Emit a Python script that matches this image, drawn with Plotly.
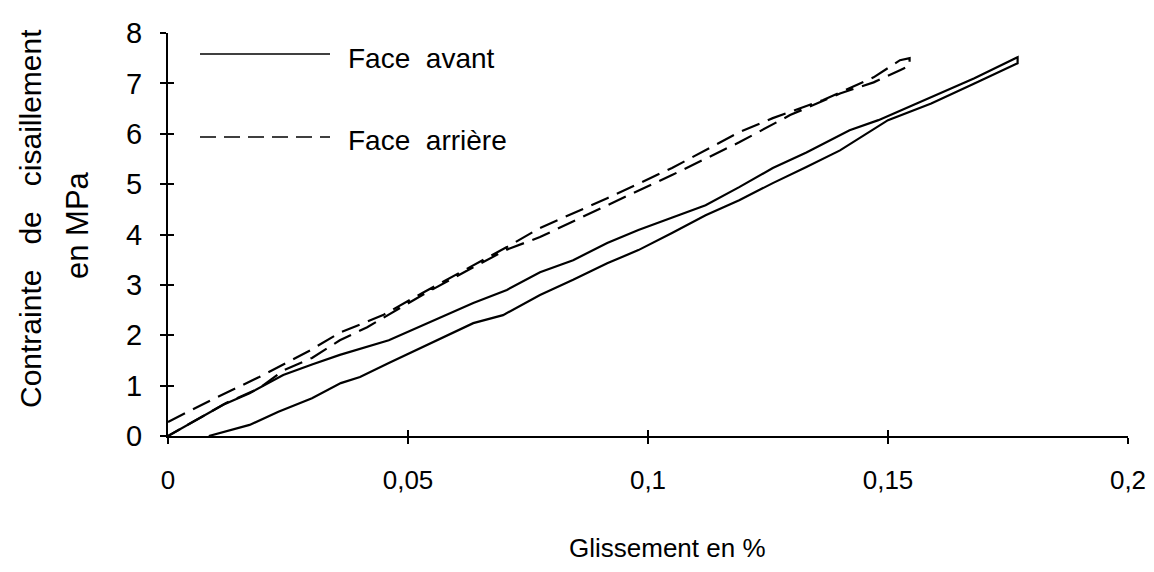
import plotly.graph_objects as go

# Face avant (solid) - loading branch then unloading branch
avant_up_x = [0, 0.0115, 0.017, 0.024, 0.030, 0.0358, 0.046, 0.053, 0.0636, 0.0706, 0.0775,
              0.0844, 0.0915, 0.098, 0.105, 0.112, 0.119, 0.126, 0.133, 0.142, 0.148, 0.159,
              0.168, 0.177]
avant_up_y = [0, 0.62, 0.85, 1.21, 1.42, 1.61, 1.9, 2.2, 2.64, 2.9, 3.25,
              3.49, 3.83, 4.09, 4.33, 4.58, 4.94, 5.32, 5.63, 6.07, 6.27, 6.73,
              7.1, 7.52]
avant_down_x = [0.177, 0.168, 0.159, 0.150, 0.140, 0.133, 0.126, 0.119, 0.112, 0.105, 0.098,
                0.0915, 0.0844, 0.0775, 0.0698, 0.0636, 0.053, 0.046, 0.040, 0.036, 0.030,
                0.023, 0.017, 0.013, 0.0085]
avant_down_y = [7.4, 7.0, 6.6, 6.27, 5.67, 5.34, 5.02, 4.68, 4.38, 4.03, 3.69,
                3.43, 3.1, 2.8, 2.4, 2.24, 1.77, 1.45, 1.17, 1.05, 0.75,
                0.48, 0.22, 0.12, 0]

# Face arrière (dashed)
arriere_up_x = [0, 0.01, 0.019, 0.0296, 0.0358, 0.0448, 0.053, 0.0636, 0.0706, 0.0775,
                0.0915, 0.105, 0.119, 0.126, 0.1365, 0.147, 0.1525, 0.1545]
arriere_up_y = [0.28, 0.76, 1.17, 1.7, 2.05, 2.4, 2.84, 3.39, 3.75, 4.13,
                4.72, 5.32, 6.03, 6.31, 6.67, 7.12, 7.46, 7.5]
arriere_down_x = [0.1545, 0.1525, 0.147, 0.14, 0.1296, 0.119, 0.105, 0.0915, 0.0775, 0.0706,
                  0.0636, 0.053, 0.0415, 0.0358, 0.03, 0.024, 0.019, 0.012, 0]
arriere_down_y = [7.35, 7.26, 7.02, 6.8, 6.37, 5.83, 5.18, 4.58, 3.95, 3.7,
                  3.35, 2.8, 2.16, 1.9, 1.55, 1.3, 0.95, 0.65, 0]

x_tickvals = [0, 0.05, 0.1, 0.15, 0.2]
x_ticktext = ["0", "0,05", "0,1", "0,15", "0,2"]
y_tickvals = [0, 1, 2, 3, 4, 5, 6, 7, 8]

FONT = "Liberation Sans, Arial, sans-serif"
OFF = 8  # page body margin
W, H = 1154 - 2 * OFF, 572 - 2 * OFF
L, T = 168 - OFF, 33 - OFF
PW, PH = 960, 403
R = W - L - PW
B = H - T - PH

def px(xw):
    return (xw - OFF - L) / PW

def py(yw):
    return (T + PH - (yw - OFF)) / PH

fig = go.Figure()
fig.add_trace(go.Scatter(x=avant_up_x + avant_down_x, y=avant_up_y + avant_down_y,
                         mode="lines", line=dict(color="black", width=2.2),
                         name="Face avant", showlegend=False))
fig.add_trace(go.Scatter(x=arriere_up_x + arriere_down_x, y=arriere_up_y + arriere_down_y,
                         mode="lines", line=dict(color="black", width=2.2, dash="19px,9px"),
                         name="Face arrière", showlegend=False))

# legend drawn manually
fig.add_shape(type="line", xref="paper", yref="paper", x0=px(200), x1=px(330), y0=py(54), y1=py(54),
              line=dict(color="black", width=1.6))
fig.add_shape(type="line", xref="paper", yref="paper", x0=px(200), x1=px(330), y0=py(137), y1=py(137),
              line=dict(color="black", width=1.6, dash="16px,8px"))
fig.add_annotation(xref="paper", yref="paper", x=px(346), y=py(58), text="Face\u00a0\u00a0avant",
                   showarrow=False, xanchor="left", yanchor="middle",
                   font=dict(family=FONT, size=28, color="black"))
fig.add_annotation(xref="paper", yref="paper", x=px(346), y=py(140), text="Face\u00a0\u00a0arrière",
                   showarrow=False, xanchor="left", yanchor="middle",
                   font=dict(family=FONT, size=28, color="black"))

# axis titles
fig.add_annotation(xref="paper", yref="paper", x=px(30), y=py(219),
                   text="Contrainte\u00a0\u00a0\u00a0de\u00a0\u00a0\u00a0cisaillement",
                   textangle=-90, showarrow=False, xanchor="center", yanchor="middle",
                   font=dict(family=FONT, size=30, color="black"))
fig.add_annotation(xref="paper", yref="paper", x=px(77), y=py(225), text="en\u00a0MPa",
                   textangle=-90, showarrow=False, xanchor="center", yanchor="middle",
                   font=dict(family=FONT, size=31, color="black"))
fig.add_annotation(xref="paper", yref="paper", x=px(667), y=py(548), text="Glissement en %",
                   showarrow=False, xanchor="center", yanchor="middle",
                   font=dict(family=FONT, size=26, color="black"))

fig.update_layout(
    width=W, height=H,
    margin=dict(l=L, r=R, t=T, b=B, pad=0, autoexpand=False),
    paper_bgcolor="white", plot_bgcolor="white",
    font=dict(family=FONT, size=28, color="black"),
    xaxis=dict(range=[0, 0.2], tickvals=x_tickvals, ticktext=x_ticktext,
               showgrid=False, zeroline=False, showline=True, linecolor="black", linewidth=2,
               ticks="outside", ticklen=6, tickwidth=2, tickcolor="black",
               tickfont=dict(family=FONT, size=26), ticklabelstandoff=14,
               ticklabeloverflow="allow", automargin=False),
    yaxis=dict(range=[0, 8], tickvals=y_tickvals,
               showgrid=False, zeroline=False, showline=True, linecolor="black", linewidth=2,
               ticks="outside", ticklen=6, tickwidth=2, tickcolor="black",
               tickfont=dict(family=FONT, size=29), ticklabelstandoff=12, automargin=False),
    xaxis2=dict(range=[0, 0.2], overlaying="x", tickvals=x_tickvals, showticklabels=False,
                showgrid=False, zeroline=False, showline=False, ticks="inside", ticklen=6,
                tickwidth=2, tickcolor="black", side="bottom", anchor="y"),
    yaxis2=dict(range=[0, 8], overlaying="y", tickvals=y_tickvals, showticklabels=False,
                showgrid=False, zeroline=False, showline=False, ticks="inside", ticklen=6,
                tickwidth=2, tickcolor="black", side="left", anchor="x"),
)
# invisible trace to activate secondary axes
fig.add_trace(go.Scatter(x=[None], y=[None], xaxis="x2", yaxis="y2", showlegend=False,
                         hoverinfo="skip"))

fig.write_html("out.html")
